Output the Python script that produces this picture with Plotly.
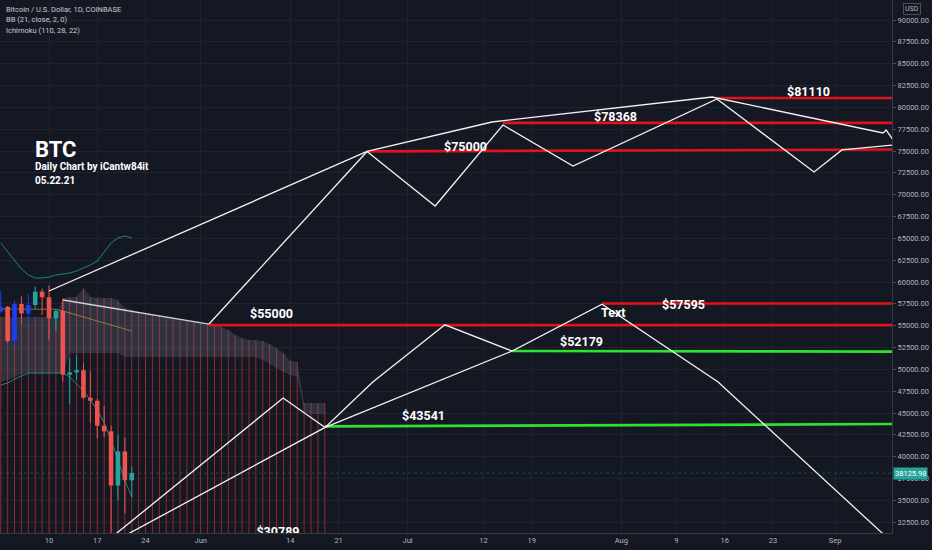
import plotly.graph_objects as go
import pandas as pd

# ---------------- data ----------------
candle_dates = pd.date_range("2021-05-03", "2021-05-22", freq="D")
opens  = [56600, 57170, 53250, 57480, 56400, 57360, 58900, 58250, 55850, 56700,
          49400, 49650, 49900, 46750, 46400, 43550, 42900, 36700, 40600, 37300]
highs  = [58970, 57250, 57900, 58350, 58650, 59500, 59250, 59600, 56900, 58000,
          51350, 51600, 50700, 49800, 46600, 45800, 43550, 42450, 42200, 38850]
lows   = [56450, 53050, 52900, 55200, 55400, 56950, 56250, 53400, 54400, 48600,
          46000, 48800, 46600, 43850, 42100, 42250, 30000, 35000, 33500, 35300]
closes = [57170, 53250, 57480, 56400, 57360, 58900, 58250, 55850, 56700, 49400,
          49650, 49900, 46750, 46400, 43550, 42900, 36700, 40600, 37300, 38126]
candle_kind = ["blue", "red", "blue", "red", "blue", "green", "red", "red", "green", "red",
               "green", "green", "red", "red", "red", "red", "red", "green", "red", "green"]

bb_upper = [64470, 63440, 62400, 61490, 60800, 60460, 60460, 60570, 60800, 60920,
            61030, 61260, 61600, 61950, 62400, 63440, 64470, 65040, 65270, 65040]
bb_basis = [56900, 56900, 56900, 56900, 56900, 56900, 56900, 56900, 56880, 56680,
            56450, 56220, 55990, 55770, 55540, 55310, 55080, 54850, 54620, 54390]
bb_lower = [48210, 48440, 48900, 49240, 49580, 49580, 49580, 49580, 49580, 49580,
            49120, 48320, 47520, 46490, 45350, 43860, 41910, 39620, 37330, 35380]

cloud_dates = pd.date_range("2021-05-03", "2021-06-19", freq="D")
cloud_top = [55990, 55990, 55990, 56000, 56000, 56000, 56000, 56000, 56000,
             58170, 58250, 58320, 59280, 58320, 58200, 58170, 58170, 57940,
             57020, 56800, 56570, 56390, 56270, 56140, 56000, 55880, 55750, 55620, 55490,
             55360, 55240, 55080, 54850, 54500, 53930, 53590, 53360, 53360, 53250,
             52900, 52440, 51870, 50960, 50840, 46150, 46150, 46150, 46150]
cloud_bottom = [48550, 48780, 49120, 49470, 49580, 49580, 49580, 49580, 49580,
                49580, 51870, 51870, 51870, 51870, 51870, 51870, 51870, 51870,
                51410, 51410, 51410, 51410, 51410, 51410, 51410, 51410, 51410, 51410, 51410,
                51410, 51410, 51410, 51410, 51410, 51410, 51410, 51410, 51410, 51070,
                50610, 50150, 49700, 49350, 49120, 45110, 44890, 44890, 44890]
cloud_floor = 29000

last_price = 38125.98

# drawings
env_dates = ["2021-05-10 00:00", "2021-06-25 03:00", "2021-07-13 06:00", "2021-08-14 04:00",
             "2021-09-07 23:00", "2021-09-08 10:00", "2021-09-09 10:00"]
env_prices = [58970, 74950, 78320, 81180, 77060, 77400, 76260]

zig_dates = ["2021-06-25 03:00", "2021-07-05 00:00", "2021-07-14 20:00", "2021-07-25 00:00",
             "2021-08-14 21:00", "2021-08-28 23:00", "2021-09-02 00:00", "2021-09-09 10:00"]
zig_prices = [74950, 68700, 77980, 73280, 80960, 72600, 75120, 75690]

slide_dates = ["2021-05-12 01:00", "2021-06-02 05:00"]
slide_prices = [57940, 55190]
rise_dates = ["2021-06-02 05:00", "2021-06-25 03:00"]
rise_prices = [55190, 74950]

fan1_dates = ["2021-05-17 17:00", "2021-06-12 23:00", "2021-06-19 01:00"]
fan1_prices = [29890, 46720, 43350]
fan2_dates = ["2021-05-18 12:00", "2021-06-19 01:00", "2021-06-25 23:00", "2021-07-06 10:00",
              "2021-07-16 04:00", "2021-07-29 05:00", "2021-08-15 01:00", "2021-09-09 17:00"]
fan2_prices = [29890, 43350, 48550, 55100, 52100, 57450, 48550, 29890]
fan3_dates = ["2021-06-19 01:00", "2021-07-16 04:00"]
fan3_prices = [43350, 52100]

level_starts = ["2021-06-25 03:00", "2021-07-14 20:00", "2021-08-15 01:00", "2021-06-02 05:00",
                "2021-07-29 05:00", "2021-07-16 04:00", "2021-06-19 01:00"]
level_start_prices = [74950, 78210, 81070, 55060, 57540, 52100, 43460]
level_end_prices = [75170, 78210, 81070, 55060, 57540, 52030, 43740]
level_kind = ["red", "red", "red", "red", "red", "green", "green"]
level_end = "2021-09-09 06:15"

x_tick_dates = ["2021-05-10", "2021-05-17", "2021-05-24", "2021-06-01", "2021-06-14", "2021-06-21",
                "2021-07-01", "2021-07-12", "2021-07-19", "2021-08-01", "2021-08-09", "2021-08-16",
                "2021-08-23", "2021-09-01"]
x_tick_text = ["10", "17", "24", "Jun", "14", "21", "Jul", "12", "19", "Aug", "9", "16", "23", "Sep"]
y_ticks = [32500, 35000, 37500, 40000, 42500, 45000, 47500, 50000, 52500, 55000, 57500, 60000,
           62500, 65000, 67500, 70000, 72500, 75000, 77500, 80000, 82500, 85000, 87500, 90000]

# ---------------- styles ----------------
BG = "#141823"
GRID = "#1f2330"
AXTXT = "#b2b5be"
FONT = "Roboto"
CANDLE_COL = {"red": "#ef5350", "green": "#26a69a", "blue": "#1e3cf0"}
LEVEL_COL = {"red": "#e3121a", "green": "#2fe22f"}
WHITE = "#f2f2f2"

fig = go.Figure()

# red vertical lines of the cloud
vx, vy = [], []
for d, t in zip(cloud_dates, cloud_top):
    vx += [d, d, None]
    vy += [t, cloud_floor, None]
fig.add_trace(go.Scatter(x=vx, y=vy, mode="lines", line=dict(color="rgba(200,45,45,0.7)", width=1),
                         hoverinfo="skip"))

# cloud fill
fig.add_trace(go.Scatter(x=list(cloud_dates) + list(cloud_dates[::-1]),
                         y=cloud_top + cloud_bottom[::-1], mode="lines", fill="toself",
                         fillcolor="rgba(120,123,135,0.27)", line=dict(width=0), hoverinfo="skip"))

# Bollinger bands
fig.add_trace(go.Scatter(x=candle_dates, y=bb_upper, mode="lines",
                         line=dict(color="rgba(38,166,154,0.75)", width=1)))
fig.add_trace(go.Scatter(x=candle_dates, y=bb_lower, mode="lines",
                         line=dict(color="rgba(38,166,154,0.75)", width=1)))
fig.add_trace(go.Scatter(x=candle_dates, y=bb_basis, mode="lines",
                         line=dict(color="rgba(190,150,60,0.7)", width=1)))

# candles
for kind, col in CANDLE_COL.items():
    wx, wy, bx, by = [], [], [], []
    for d, o, h, l, c, k in zip(candle_dates, opens, highs, lows, closes, candle_kind):
        if k != kind:
            continue
        wx += [d, d, None]
        wy += [l, h, None]
        lo, hi = min(o, c), max(o, c)
        if hi - lo < 150:
            hi = lo + 150
        bx += [d, d, None]
        by += [lo, hi, None]
    fig.add_trace(go.Scatter(x=wx, y=wy, mode="lines", line=dict(color=col, width=1)))
    fig.add_trace(go.Scatter(x=bx, y=by, mode="lines", line=dict(color=col, width=4.6)))

# last price line
fig.add_hline(y=last_price, line=dict(color="rgba(38,166,154,0.35)", width=1, dash="dot"))

# levels
for s, p0, p1, k in zip(level_starts, level_start_prices, level_end_prices, level_kind):
    fig.add_trace(go.Scatter(x=[s, level_end], y=[p0, p1], mode="lines",
                             line=dict(color=LEVEL_COL[k], width=2.7)))

# white drawings
fig.add_trace(go.Scatter(x=slide_dates, y=slide_prices, mode="lines",
                         line=dict(color="rgba(225,225,232,0.9)", width=1.3)))
for xs, ys in [(rise_dates, rise_prices), (env_dates, env_prices), (zig_dates, zig_prices),
               (fan1_dates, fan1_prices), (fan2_dates, fan2_prices), (fan3_dates, fan3_prices)]:
    fig.add_trace(go.Scatter(x=xs, y=ys, mode="lines", line=dict(color=WHITE, width=1.3)))

# clipped label at the bottom
fig.add_trace(go.Scatter(x=["2021-06-12 05:00"], y=[31250], mode="text", text=["<b>$30789</b>"],
                         textfont=dict(family=FONT, size=12.5, color="#ffffff"), cliponaxis=True))

# price labels
labels = [("2021-07-09 08:00", 75573, "$75000"), ("2021-07-31 05:00", 78950, "$78368"),
          ("2021-08-28 05:00", 81810, "$81110"), ("2021-06-11 08:00", 56390, "$55000"),
          ("2021-08-10 02:00", 57480, "$57595"), ("2021-07-30 22:00", 56500, "Text"),
          ("2021-07-26 07:00", 53245, "$52179"), ("2021-07-03 06:00", 44660, "$43541")]
for xd, yp, t in labels:
    fig.add_annotation(x=xd, y=yp, xref="x", yref="y", text=f"<b>{t}</b>", showarrow=False,
                       xanchor="center", yanchor="middle",
                       font=dict(family=FONT, size=12.5, color="#ffffff"))

# title texts
for yy, t, sz in [(149, "BTC", 22), (167, "Daily Chart by iCantw84it", 10), (180, "05.22.21", 10)]:
    fig.add_annotation(x=33 / 892, y=1 - yy / 533, xref="paper", yref="paper", xanchor="left",
                       yanchor="middle", text=f"<b>{t}</b>", showarrow=False,
                       font=dict(family=FONT, size=sz, color="#ffffff"))

# legend texts
for i, t in enumerate(["Bitcoin / U.S. Dollar, 1D, COINBASE", "BB (21, close, 2, 0)",
                       "Ichimoku (110, 28, 22)"]):
    fig.add_annotation(x=4 / 892, y=1 - (9 + 11 * i) / 533, xref="paper", yref="paper",
                       xanchor="left", yanchor="middle", text=t, showarrow=False,
                       font=dict(family=FONT, size=7.5, color="#c8cbd3"))

# USD box and last price tag
fig.add_annotation(x=1, y=1 - 9 / 533, xref="paper", yref="paper", xanchor="left", yanchor="middle",
                   xshift=11, text="USD", showarrow=False, font=dict(family=FONT, size=7, color=AXTXT),
                   bordercolor="#4a4e5a", borderwidth=1, borderpad=1)
fig.add_annotation(x=1, y=last_price, xref="paper", yref="y", xanchor="left", yanchor="middle",
                   xshift=1, text=f"{last_price:.2f}", showarrow=False,
                   font=dict(family=FONT, size=7.5, color="#ffffff"), bgcolor="#26a69a", borderpad=1)

fig.update_layout(
    width=932, height=550, autosize=False, showlegend=False,
    paper_bgcolor=BG, plot_bgcolor=BG,
    margin=dict(l=0, r=40, t=0, b=17),
    font=dict(family=FONT, color=AXTXT),
    xaxis=dict(type="date", range=["2021-05-02 21:26", "2021-09-09 06:15"],
               tickvals=x_tick_dates, ticktext=x_tick_text, tickfont=dict(size=7.5, color=AXTXT),
               showgrid=True, gridcolor=GRID, gridwidth=1, zeroline=False,
               showline=True, linecolor="#363a45", ticks="", fixedrange=True),
    yaxis=dict(side="right", range=[31262, 92290], tickvals=y_ticks,
               ticktext=[f"{v:.2f}" for v in y_ticks], tickfont=dict(size=7.5, color=AXTXT),
               showgrid=True, gridcolor=GRID, gridwidth=1, zeroline=False,
               showline=True, linecolor="#363a45", ticks="outside", ticklen=3,
               tickcolor="#4a4e5a", fixedrange=True),
)

fig.write_html("out.html", config={"displayModeBar": False},
               post_script="document.body.style.margin='0';document.body.style.background='#141823';")
